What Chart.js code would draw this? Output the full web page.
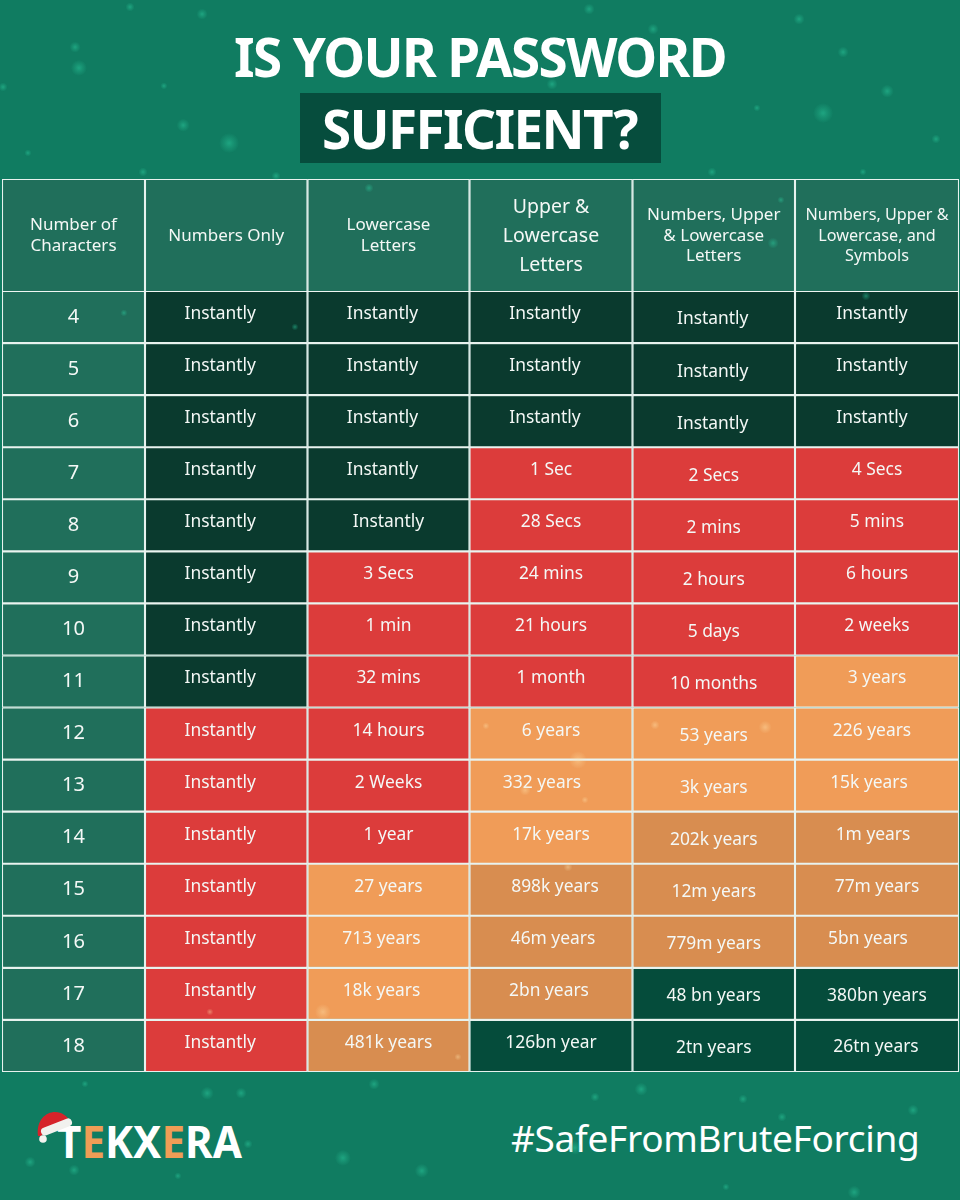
<!DOCTYPE html>
<html><head><meta charset="utf-8">
<script src="https://cdn.jsdelivr.net/npm/chart.js@4"></script>
<style>
html,body{margin:0;padding:0;background:#107c61}
#page{position:relative;width:960px;height:1200px;overflow:hidden;background:#107c61;font-family:"Noto Sans",sans-serif;color:#fff}
.t{position:absolute;white-space:nowrap;line-height:1}
#box{position:absolute;left:299.5px;top:93px;width:361.5px;height:70px;background:#064d3d}
canvas{position:absolute;display:block}
#dots{position:absolute;inset:0;pointer-events:none}
#dots i{position:absolute;border-radius:50%;transform:translate(-50%,-50%)}
</style></head><body>
<div id="page">
<div class="t" id="t1" style="left:234px;top:30px;font-size:53px;font-weight:700;letter-spacing:-1.62px">IS YOUR PASSWORD</div>
<div id="box"></div>
<div class="t" id="t2" style="left:322px;top:102px;font-size:53px;font-weight:700;letter-spacing:-1.6px">SUFFICIENT?</div>
<canvas id="head" width="957" height="113" style="left:2px;top:179px;width:957px;height:113px"></canvas>
<canvas id="body" width="957" height="781" style="left:2px;top:291px;width:957px;height:781px"></canvas>
<svg style="position:absolute;left:0;top:1090px" width="300" height="90" viewBox="0 1090 300 90">
<text x="57" y="1158" font-family="Noto Sans" font-weight="700" font-size="45" textLength="185" lengthAdjust="spacingAndGlyphs" fill="#fff">T<tspan fill="#ef9d56">E</tspan>KX<tspan fill="#ef9d56">E</tspan>RA</text>
<path d="M38 1136 C36 1120 46 1112 55 1112 C62 1112 67 1116 70 1121 L46 1132 L41 1136 Z" fill="#d6232a"/>
<path d="M45 1131.500 L68 1122.500" stroke="#f1f1ee" stroke-width="8" stroke-linecap="round" fill="none"/>
<circle cx="43" cy="1139" r="3.800" fill="#f4f4f0"/>
</svg>
<div class="t" id="tag" style="left:511px;top:1119px;font-size:37px;font-weight:400;letter-spacing:-.3px">#SafeFromBruteForcing</div>
<div id="dots"></div>
</div>
<script>
const characterCounts = ["4","5","6","7","8","9","10","11","12","13","14","15","16","17","18"];
const columnHeaders = [
  ["Number of","Characters"],["Numbers Only"],["Lowercase","Letters"],
  ["Upper &","Lowercase","Letters"],["Numbers, Upper","& Lowercase","Letters"],
  ["Numbers, Upper &","Lowercase, and","Symbols"]];
const numbersOnly = Array(15).fill("Instantly");
const lowercase = ["Instantly","Instantly","Instantly","Instantly","Instantly","3 Secs","1 min","32 mins","14 hours","2 Weeks","1 year","27 years","713 years","18k years","481k years"];
const upperLower = ["Instantly","Instantly","Instantly","1 Sec","28 Secs","24 mins","21 hours","1 month","6 years","332 years","17k years","898k years","46m years","2bn years","126bn year"];
const numbersUpperLower = ["Instantly","Instantly","Instantly","2 Secs","2 mins","2 hours","5 days","10 months","53 years","3k years","202k years","12m years","779m years","48 bn years","2tn years"];
const allSymbols = ["Instantly","Instantly","Instantly","4 Secs","5 mins","6 hours","2 weeks","3 years","226 years","15k years","1m years","77m years","5bn years","380bn years","26tn years"];
const numbersOnlyBand = "DDDDDDDDRRRRRRR";
const lowercaseBand = "DDDDDRRRRRROOOB";
const upperLowerBand = "DDDRRRRROOOBBBN";
const numbersUpperLowerBand = "DDDRRRRROOBBBNN";
const allSymbolsBand = "DDDRRRROOOBBBNN";
const columnWeights = [143,162.5,162,163,162.5,164];

const bodyCols = [numbersOnly,lowercase,upperLower,numbersUpperLower,allSymbols];
const bodyBands = [numbersOnlyBand,lowercaseBand,upperLowerBand,numbersUpperLowerBand,allSymbolsBand];
const bandColor = {D:"#0a3a2e",N:"#054c3b",R:"#dc3c3b",O:"#f09c58",B:"#d88d50"};
const frame = "rgba(238,246,243,.97)", side = "#206f5b";
const total = columnWeights.reduce((a,b)=>a+b,0);
const baseOpts = {responsive:false,animation:false,indexAxis:"y",devicePixelRatio:1,
  layout:{padding:0},
  plugins:{legend:{display:false},tooltip:{enabled:false},title:{display:false}},
  scales:{x:{display:false,stacked:true,min:0,max:total},y:{display:false,stacked:true}}};
const barStyle = {barPercentage:1,categoryPercentage:1,borderWidth:1.4,borderColor:frame,borderSkipped:false};

// hand-placed nudges of cell captions, as in the original artwork
const colDy=[0,-3,-3,-3,2.5,-3];
function nudge(c,r,txt){
  let dx=0,dy=colDy[c];
  if(txt==="Instantly"){dx={1:-6,2:-6,3:-6,4:-1,5:-5}[c]||0;}
  if(c===2&&r===4)dx=0;
  if(c===2&&(r===12||r===13))dx=-7;
  if(c===3&&r===9)dx=-9;
  if(c===3&&r===11)dx=4;
  if(c===3&&r===12)dx=2;
  if(c===3&&r===13)dx=-2;
  if(c===5&&r===8)dx=-5;
  if(c===5&&r===9)dx=-8;
  if(c===5&&r===10)dx=-4;
  if(c===5&&r===12)dx=-9;
  if(c===5&&r===13){dy=2.5}
  if(c===5&&r===14){dy=1;dx=-1}
  return [dx,dy];
}
const textPlugin={id:"cellText",afterDatasetsDraw(ch){
  const ctx=ch.ctx;ctx.save();ctx.fillStyle="#f4f8f6";ctx.textAlign="center";ctx.textBaseline="middle";
  const o=ch.options.plugins.cellText;
  ch.data.datasets.forEach((ds,c)=>{
    ch.getDatasetMeta(c).data.forEach((bar,r)=>{
      const p=bar.getProps(["x","y","base"],true);
      const cx=(p.x+p.base)/2;
      if(o.mode==="head"){
        const lines=columnHeaders[c];
        const big=c===3;const lh=big?29:(lines.length===3?20.5:21);
        ctx.font=(big?19.5:(c===5?16.2:17))+'px "Noto Sans"';
        lines.forEach((l,i)=>ctx.fillText(l,cx,p.y+.5+(i-(lines.length-1)/2)*lh));
      }else if(c===0){
        ctx.font='20px "Noto Sans"';
        ctx.fillText(characterCounts[r],cx,p.y);
      }else{
        const t=bodyCols[c-1][r];const [dx,dy]=nudge(c,r,t);
        ctx.font='17.4px "Noto Sans"';
        ctx.fillText(t,cx+dx,p.y+dy);
      }
    });
  });
  ctx.restore();
}};
new Chart(document.getElementById("head"),{type:"bar",plugins:[textPlugin],
  data:{labels:["Header"],datasets:columnWeights.map(w=>({data:[w],backgroundColor:side,...barStyle}))},
  options:{...baseOpts,plugins:{...baseOpts.plugins,cellText:{mode:"head"}}}});
new Chart(document.getElementById("body"),{type:"bar",plugins:[textPlugin],
  data:{labels:characterCounts,datasets:columnWeights.map((w,c)=>({
    data:characterCounts.map(()=>w),
    backgroundColor:characterCounts.map((_,r)=>c===0?side:bandColor[bodyBands[c-1][r]]),...barStyle}))},
  options:{...baseOpts,plugins:{...baseOpts.plugins,cellText:{mode:"body"}}}});

// decorative bokeh specks of the background
const specks=[[79,68,9],[229,143,11],[183,125,7],[75,47,6],[202,14,6],[130,7,5],[3,87,5],[164,86,4],[28,153,4],[143,172,5],[276,176,5],[369,188,5],[295,327,4],[124,313,4],
[823,113,11],[887,91,7],[843,52,6],[799,19,6],[589,9,6],[653,29,6],[552,84,6],[936,139,5],[757,108,4],[712,172,5],[863,172,4],[773,243,6],[781,200,4],[866,296,5],
[207,1093,7],[241,1093,6],[343,1158,9],[422,1171,8],[30,1162,6],[74,1170,6],[248,1144,5],[374,1084,6],[85,1084,4],[178,1176,4],[641,1089,7],[595,1097,5],[743,1099,5],[782,1117,5],[913,1110,6],[854,1192,7],[575,1148,8],[726,1187,4]];
const warm=[[578,760,10],[765,727,7],[655,725,5],[486,726,4],[525,790,6],[585,800,4],[323,1012,9],[458,1057,4],[210,1012,4],[568,867,5]];
const host=document.getElementById("dots");
function add(list,rgb,a){list.forEach(([x,y,s])=>{const e=document.createElement("i");
  e.style.cssText=`left:${x}px;top:${y}px;width:${s*1.8}px;height:${s*1.8}px;background:radial-gradient(circle,rgba(${rgb},${a}) 0,rgba(${rgb},${a*.55}) 30%,rgba(${rgb},0) 72%)`;host.appendChild(e);});}
add(specks,"45,205,160",.5);add(warm,"255,225,170",.45);
</script>
</body></html>
